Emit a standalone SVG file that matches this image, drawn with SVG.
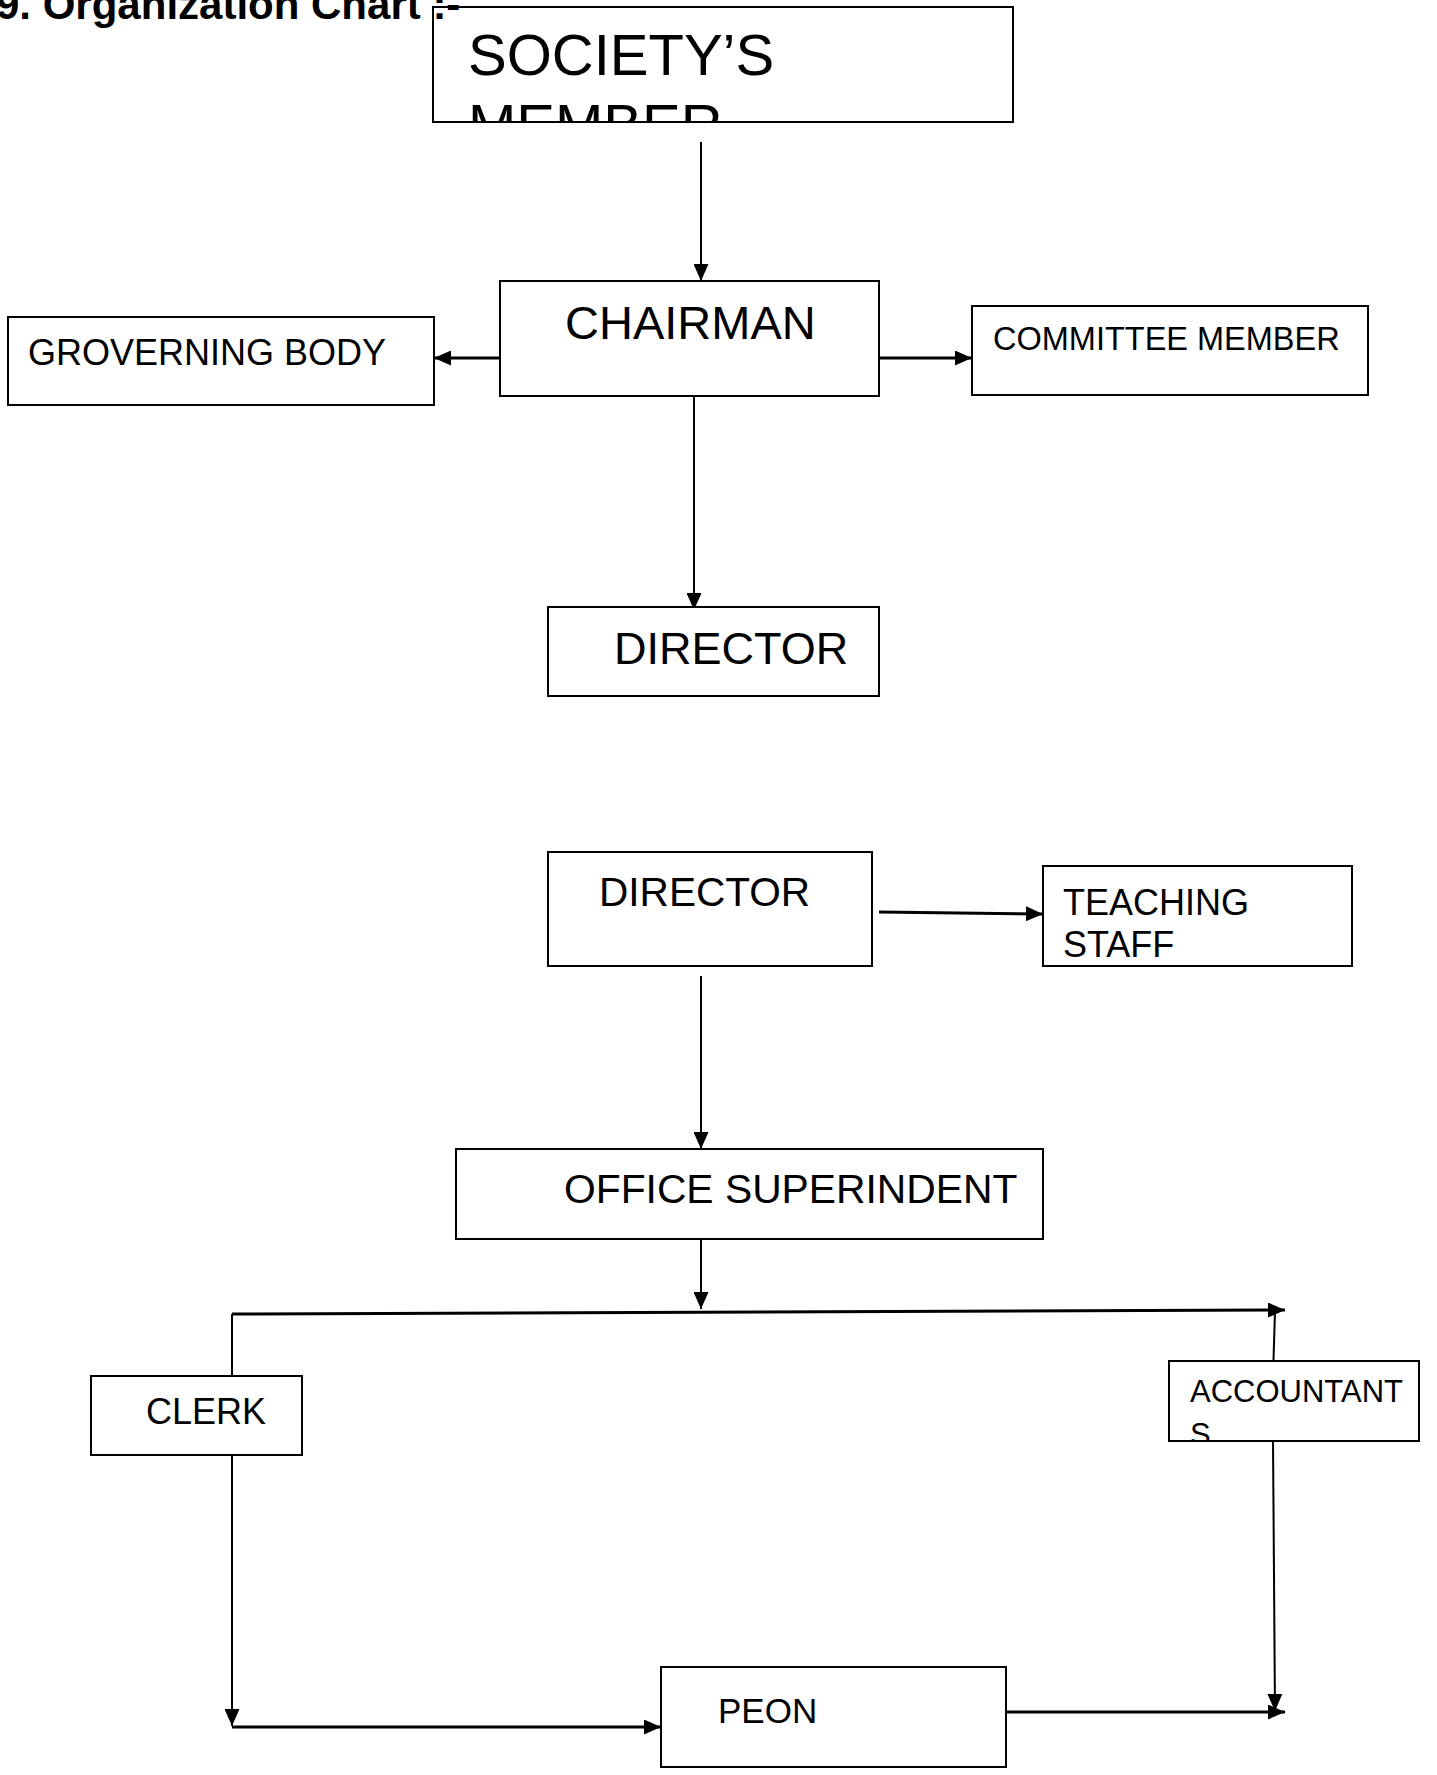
<svg xmlns="http://www.w3.org/2000/svg" width="1437" height="1775" viewBox="0 0 1437 1775">
<style>
  .box { fill: #ffffff; stroke: #000000; stroke-width: 2; }
  .t { font-family: "Liberation Sans", Arial, Helvetica, sans-serif; fill: #000000; }
  .c { fill: none; stroke: #000000; stroke-width: 2; }
  .thick { stroke-width: 3; }
</style>
<defs>
  <marker id="arr" markerUnits="userSpaceOnUse" markerWidth="17" markerHeight="15" refX="17" refY="7.5" orient="auto">
    <path d="M0,0 L17,7.5 L0,15 Z" fill="#000000"/>
  </marker>
  <clipPath id="clipSoc"><rect x="433" y="7" width="580" height="115"/></clipPath>
  <clipPath id="clipAcc"><rect x="1169" y="1361" width="250" height="80"/></clipPath>
</defs>
<rect x="0" y="0" width="1437" height="1775" fill="#ffffff"/>

<g id="connectors">
  <line class="c" x1="701" y1="142" x2="701" y2="281" marker-end="url(#arr)"/>
  <line class="c thick" x1="500" y1="358" x2="434" y2="358" marker-end="url(#arr)"/>
  <line class="c thick" x1="879" y1="358" x2="972" y2="358" marker-end="url(#arr)"/>
  <line class="c" x1="694" y1="396" x2="694" y2="610" marker-end="url(#arr)"/>
  <line class="c thick" x1="879" y1="912" x2="1043" y2="914" marker-end="url(#arr)"/>
  <line class="c" x1="701" y1="976" x2="701" y2="1149" marker-end="url(#arr)"/>
  <line class="c" x1="701" y1="1240" x2="701" y2="1309" marker-end="url(#arr)"/>
  <line class="c thick" x1="232" y1="1314" x2="1285" y2="1310" marker-end="url(#arr)"/>
  <line class="c" x1="232" y1="1314" x2="232" y2="1376"/>
  <line class="c" x1="1273" y1="1375" x2="1275" y2="1312"/>
  <line class="c" x1="232" y1="1455" x2="232" y2="1726" marker-end="url(#arr)"/>
  <line class="c thick" x1="232" y1="1727" x2="661" y2="1727" marker-end="url(#arr)"/>
  <line class="c" x1="1273" y1="1441" x2="1275" y2="1711" marker-end="url(#arr)"/>
  <line class="c thick" x1="1006" y1="1712" x2="1285" y2="1712" marker-end="url(#arr)"/>
</g>

<g id="society">
  <rect class="box" x="433" y="7" width="580" height="115"/>
  <g clip-path="url(#clipSoc)">
    <text class="t" x="468" y="75" font-size="58">SOCIETY’S</text>
    <text class="t" x="468" y="145" font-size="58">MEMBER</text>
  </g>
</g>

<text class="t" x="-4" y="19" font-size="42" font-weight="bold">9. Organization Chart :-</text>

<g id="chairman">
  <rect class="box" x="500" y="281" width="379" height="115"/>
  <text class="t" x="565" y="339" font-size="47">CHAIRMAN</text>
</g>

<g id="governing">
  <rect class="box" x="8" y="317" width="426" height="88"/>
  <text class="t" x="28" y="365" font-size="36">GROVERNING BODY</text>
</g>

<g id="committee">
  <rect class="box" x="972" y="306" width="396" height="89"/>
  <text class="t" x="993" y="350" font-size="32.5">COMMITTEE MEMBER</text>
</g>

<g id="director1">
  <rect class="box" x="548" y="607" width="331" height="89"/>
  <text class="t" x="614" y="664" font-size="45">DIRECTOR</text>
</g>

<g id="director2">
  <rect class="box" x="548" y="852" width="324" height="114"/>
  <text class="t" x="599" y="906" font-size="40.6">DIRECTOR</text>
</g>

<g id="teaching">
  <rect class="box" x="1043" y="866" width="309" height="100"/>
  <text class="t" x="1063" y="915" font-size="36">TEACHING</text>
  <text class="t" x="1063" y="957" font-size="36">STAFF</text>
</g>

<g id="office">
  <rect class="box" x="456" y="1149" width="587" height="90"/>
  <text class="t" x="564" y="1203" font-size="40.8">OFFICE SUPERINDENT</text>
</g>

<g id="clerk">
  <rect class="box" x="91" y="1376" width="211" height="79"/>
  <text class="t" x="146" y="1424" font-size="36">CLERK</text>
</g>

<g id="accountants">
  <rect class="box" x="1169" y="1361" width="250" height="80"/>
  <g clip-path="url(#clipAcc)">
    <text class="t" x="1190" y="1402" font-size="31">ACCOUNTANT</text>
    <text class="t" x="1190" y="1445" font-size="31">S</text>
  </g>
</g>

<g id="peon">
  <rect class="box" x="661" y="1667" width="345" height="100"/>
  <text class="t" x="718" y="1723" font-size="35">PEON</text>
</g>
</svg>
